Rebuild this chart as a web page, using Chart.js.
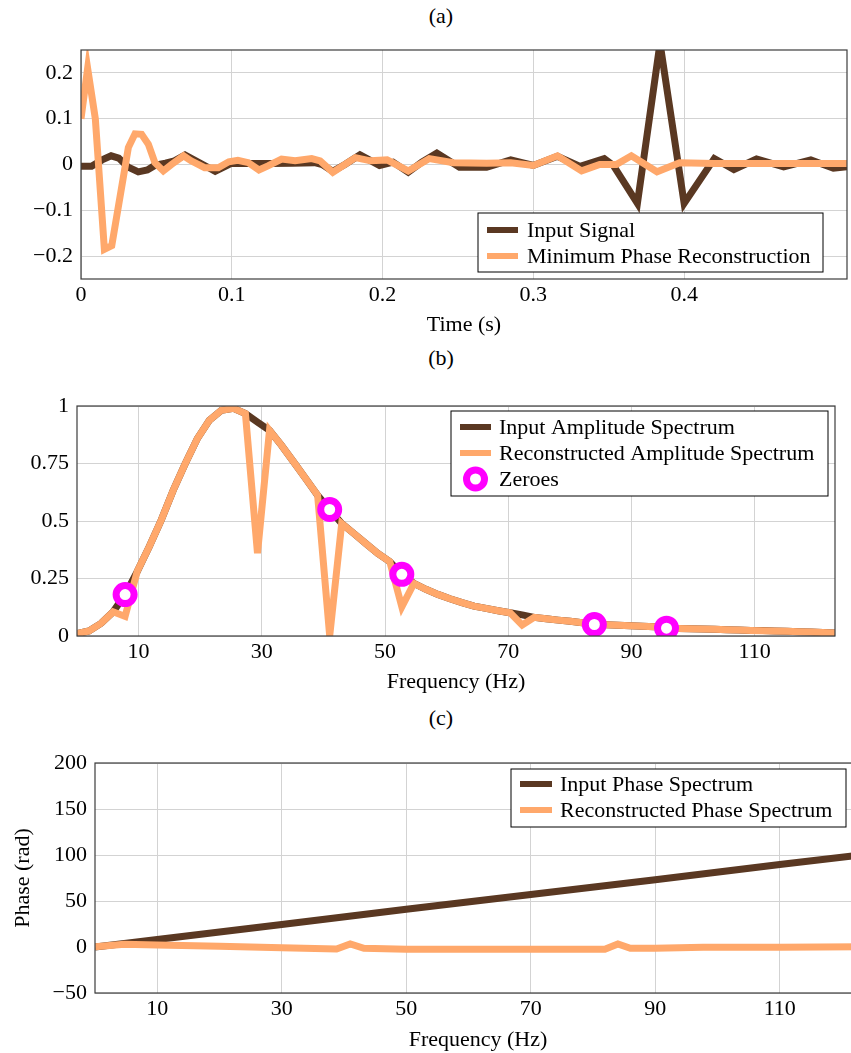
<!DOCTYPE html>
<html>
<head>
<meta charset="utf-8">
<script src="https://cdn.jsdelivr.net/npm/chart.js@4.4.0/dist/chart.umd.min.js"></script>
<style>
    html, body { margin: 0; padding: 0; width: 851px; height: 1053px; overflow: hidden; background: #fff; }
    canvas { position: absolute; left: 0; }
    .panelLabel { position: absolute; left: 391px; width: 100px; text-align: center; line-height: 26px;
                  font: 22px "Liberation Serif", "Times New Roman", serif; color: #000; }
</style>
</head>
<body>
<div class="panelLabel" style="top:3px">(a)</div>
<div class="panelLabel" style="top:345px">(b)</div>
<div class="panelLabel" style="top:705px">(c)</div>
<canvas id="chartA" width="851" height="340" style="top:0px"></canvas>
<canvas id="chartB" width="851" height="360" style="top:340px"></canvas>
<canvas id="chartC" width="880" height="353" style="top:700px"></canvas>
<script>
// (a) time domain
var timeIn = [0, 0.007, 0.014, 0.020, 0.025, 0.031, 0.038, 0.044, 0.049, 0.056, 0.062, 0.069, 0.078, 0.089,
    0.100, 0.113, 0.125, 0.140, 0.155, 0.160, 0.167, 0.175, 0.185, 0.198, 0.207, 0.217, 0.226, 0.236, 0.251,
    0.269, 0.285, 0.300, 0.316, 0.331, 0.347, 0.353, 0.369, 0.384, 0.400, 0.420, 0.433, 0.448, 0.466, 0.484,
    0.499, 0.508];
var signalIn = [-0.004, -0.004, 0.010, 0.019, 0.014, -0.005, -0.016, -0.012, -0.002, 0.003, 0.008, 0.021, 0.005, -0.015,
    0.003, 0.002, 0.002, 0.003, 0.004, 0.0, -0.015, 0.0, 0.021, -0.002, 0.005, -0.017, 0.005, 0.025, -0.006,
    -0.006, 0.010, -0.002, 0.018, -0.004, 0.013, -0.002, -0.085, 0.265, -0.085, 0.013, -0.011, 0.012, -0.005, 0.010,
    -0.008, -0.005];
var timeRec = [0, 0.0044, 0.0095, 0.0155, 0.0204, 0.0314, 0.0358, 0.0402, 0.0447, 0.049, 0.0546, 0.060, 0.068, 0.073,
    0.082, 0.091, 0.098, 0.104, 0.111, 0.118, 0.124, 0.133, 0.142, 0.153, 0.1586, 0.167, 0.182, 0.192, 0.203, 0.217,
    0.231, 0.247, 0.269, 0.285, 0.300, 0.316, 0.332, 0.344, 0.355, 0.365, 0.382, 0.397, 0.420, 0.460, 0.508];
var signalRec = [0.10, 0.21, 0.10, -0.185, -0.177, 0.037, 0.067, 0.066, 0.044, 0.004, -0.014, 0.0, 0.019, 0.008,
    -0.007, -0.007, 0.006, 0.009, 0.004, -0.012, -0.003, 0.012, 0.008, 0.013, 0.008, -0.017, 0.015, 0.008, 0.010, -0.014,
    0.013, 0.004, 0.003, 0.004, -0.002, 0.019, -0.014, 0.0, 0.0, 0.019, -0.016, 0.004, 0.002, 0.002, 0.002];
var timeTicks = [0, 0.1, 0.2, 0.3, 0.4];
var signalTicks = [-0.2, -0.1, 0, 0.1, 0.2];

// (b) amplitude spectrum
var freqBins = [0, 1.95, 3.91, 5.86, 7.81, 9.77, 11.72, 13.67, 15.63, 17.58, 19.53, 21.48, 23.44, 25.39, 27.34, 29.30,
    31.25, 33.20, 35.16, 37.11, 39.06, 41.02, 42.97, 44.92, 46.88, 48.83, 50.78, 52.73, 54.69, 56.64, 58.59, 60.55,
    62.50, 64.45, 66.41, 68.36, 70.31, 72.27, 74.22, 76.17, 78.13, 80.08, 82.03, 83.98, 85.94, 87.89, 89.84, 91.80,
    93.75, 95.70, 97.66, 99.61, 101.56, 103.52, 105.47, 107.42, 109.38, 111.33, 113.28, 115.23, 117.19, 119.14, 121.09, 123.05];
var ampIn = [0.010, 0.022, 0.055, 0.105, 0.180, 0.280, 0.388, 0.504, 0.634, 0.750, 0.858, 0.938, 0.981, 0.990, 0.967, 0.930,
    0.894, 0.829, 0.757, 0.685, 0.612, 0.550, 0.489, 0.446, 0.402, 0.359, 0.323, 0.268, 0.229, 0.203, 0.181, 0.162,
    0.145, 0.130, 0.120, 0.110, 0.101, 0.092, 0.081, 0.075, 0.069, 0.064, 0.058, 0.050, 0.049, 0.047, 0.045, 0.042,
    0.040, 0.034, 0.033, 0.032, 0.030, 0.029, 0.027, 0.026, 0.024, 0.024, 0.022, 0.021, 0.019, 0.017, 0.015, 0.013];
var ampRec = [0.010, 0.022, 0.055, 0.105, 0.085, 0.280, 0.388, 0.504, 0.634, 0.750, 0.858, 0.938, 0.981, 0.990, 0.967, 0.360,
    0.894, 0.829, 0.757, 0.685, 0.612, 0.000, 0.489, 0.446, 0.402, 0.359, 0.323, 0.127, 0.229, 0.203, 0.181, 0.162,
    0.145, 0.130, 0.120, 0.110, 0.101, 0.048, 0.081, 0.075, 0.069, 0.064, 0.058, 0.050, 0.049, 0.047, 0.045, 0.042,
    0.040, 0.034, 0.033, 0.032, 0.030, 0.029, 0.027, 0.026, 0.024, 0.023, 0.022, 0.021, 0.019, 0.017, 0.015, 0.013];
var zeroFreq = [7.81, 41.02, 52.73, 83.98, 95.70];
var zeroAmp = [0.180, 0.550, 0.268, 0.050, 0.034];
var freqTicks = [10, 30, 50, 70, 90, 110];
var ampTicks = [0, 0.25, 0.5, 0.75, 1];

// (c) phase spectrum
var phaseInFreq = [0, 10, 30, 50, 70, 90, 110, 123.05];
var phaseIn = [0, 8.2, 24.5, 41.0, 57.0, 73.2, 89.6, 100.0];
var phaseRecFreq = [0, 4.7, 10, 20, 30, 38.8, 41.0, 43.2, 50, 60, 70, 81.9, 84.0, 86.0, 90, 97.7, 110, 123.05];
var phaseRec = [0.3, 3.0, 2.2, 0.8, -0.7, -2.2, 3.3, -1.4, -2.5, -2.5, -2.5, -2.5, 3.3, -1.4, -1.4, -0.3, -0.3, 0.4];
var phaseTicks = [-50, 0, 50, 100, 150, 200];

var DARK = '#5a3822';
var ORANGE = '#ffa86b';
var MAGENTA = '#ff00ff';
var FONT = { family: '"Liberation Serif", "Times New Roman", serif', size: 22, lineHeight: 1.2 };

function pairs(xs, ys) {
    return xs.map(function (x, i) { return { x: x, y: ys[i] }; });
}

function fmt(v) {
    return String(v).replace('-', '\u2212');
}

function axis(ticks, min, max, size, isX, title, titlePad) {
    return {
        type: 'linear',
        min: min,
        max: max,
        afterBuildTicks: function (s) { s.ticks = ticks.map(function (v) { return { value: v }; }); },
        afterFit: function (s) { if (isX) { s.height = size; } else { s.width = size; } },
        grid: { color: '#d3d3d3', lineWidth: 1, drawTicks: false },
        border: { display: false },
        ticks: {
            font: FONT, color: '#000', padding: isX ? 3 : 8,
            maxRotation: 0, autoSkip: false,
            callback: function (v) { return fmt(v); }
        },
        title: title ? { display: true, text: title, font: FONT, color: '#000', padding: titlePad } : { display: false }
    };
}

function lineSet(label, xs, ys, color, order) {
    return {
        label: label, data: pairs(xs, ys), borderColor: color, backgroundColor: color,
        borderWidth: 7, pointRadius: 0, pointHoverRadius: 0, fill: false, tension: 0,
        borderJoinStyle: 'miter', clip: 0, order: order
    };
}

var framePlugin = {
    id: 'frame',
    afterDatasetsDraw: function (chart) {
        var a = chart.chartArea, ctx = chart.ctx;
        ctx.save();
        ctx.strokeStyle = '#3c3c3c';
        ctx.lineWidth = 1.2;
        ctx.strokeRect(a.left, a.top, a.right - a.left, a.bottom - a.top);
        ctx.restore();
    }
};

var legendPlugin = {
    id: 'boxLegend',
    afterDraw: function (chart, args, opts) {
        var ctx = chart.ctx;
        ctx.save();
        ctx.fillStyle = '#fff';
        ctx.fillRect(opts.left, opts.top, opts.right - opts.left, opts.bottom - opts.top);
        ctx.strokeStyle = '#000';
        ctx.lineWidth = 1;
        ctx.strokeRect(opts.left, opts.top, opts.right - opts.left, opts.bottom - opts.top);
        ctx.font = FONT.size + 'px ' + FONT.family;
        ctx.textBaseline = 'middle';
        ctx.textAlign = 'left';
        chart.data.datasets.forEach(function (ds, i) {
            var y = opts.top + opts.firstRow + i * opts.rowGap;
            if (ds.showLine === false) {
                ctx.beginPath();
                ctx.arc((opts.sampleStart + opts.sampleEnd) / 2, y, ds.pointRadius, 0, Math.PI * 2);
                ctx.fillStyle = ds.pointBackgroundColor;
                ctx.fill();
                ctx.lineWidth = ds.pointBorderWidth;
                ctx.strokeStyle = ds.pointBorderColor;
                ctx.stroke();
            } else {
                ctx.beginPath();
                ctx.moveTo(opts.sampleStart, y);
                ctx.lineTo(opts.sampleEnd, y);
                ctx.lineWidth = 6;
                ctx.strokeStyle = ds.borderColor;
                ctx.stroke();
            }
            ctx.fillStyle = '#000';
            ctx.fillText(ds.label, opts.textX, y + 1);
        });
        ctx.restore();
    }
};

function baseOptions(pad, legend, scales) {
    return {
        responsive: false,
        animation: false,
        devicePixelRatio: 1,
        events: [],
        layout: { padding: pad },
        scales: scales,
        plugins: {
            legend: { display: false },
            tooltip: { enabled: false },
            boxLegend: legend
        }
    };
}

document.addEventListener('DOMContentLoaded', function () {
    Chart.defaults.font.family = FONT.family;

    new Chart(document.getElementById('chartA'), {
        type: 'line',
        data: {
            datasets: [
                lineSet('Input Signal', timeIn, signalIn, DARK, 2),
                lineSet('Minimum Phase Reconstruction', timeRec, signalRec, ORANGE, 1)
            ]
        },
        options: baseOptions({ top: 50, right: 4, left: 0, bottom: 0 },
            { left: 478, top: 213, right: 823, bottom: 272, firstRow: 17, rowGap: 26, sampleStart: 487, sampleEnd: 518, textX: 527 },
            {
                x: axis(timeTicks, 0, 0.508, 61, true, 'Time (s)', { top: 0, bottom: 1.3 }),
                y: axis(signalTicks, -0.25, 0.25, 81, false)
            }),
        plugins: [framePlugin, legendPlugin]
    });

    var zeroes = {
        label: 'Zeroes', data: pairs(zeroFreq, zeroAmp), showLine: false,
        pointRadius: 9, pointHoverRadius: 9, pointBorderWidth: 7,
        pointBackgroundColor: '#fff', pointBorderColor: MAGENTA,
        borderColor: MAGENTA, backgroundColor: '#fff', order: 0
    };

    new Chart(document.getElementById('chartB'), {
        type: 'line',
        data: {
            datasets: [
                lineSet('Input Amplitude Spectrum', freqBins, ampIn, DARK, 2),
                lineSet('Reconstructed Amplitude Spectrum', freqBins, ampRec, ORANGE, 1),
                zeroes
            ]
        },
        options: baseOptions({ top: 66, right: 7, left: 0, bottom: 0 },
            { left: 451, top: 71, right: 828, bottom: 156, firstRow: 16, rowGap: 26, sampleStart: 460, sampleEnd: 491, textX: 499 },
            {
                x: axis(freqTicks, 0, 123.05, 64, true, 'Frequency (Hz)', { top: 0, bottom: 4.8 }),
                y: axis(ampTicks, 0, 1, 77, false)
            }),
        plugins: [framePlugin, legendPlugin]
    });

    new Chart(document.getElementById('chartC'), {
        type: 'line',
        data: {
            datasets: [
                lineSet('Input Phase Spectrum', phaseInFreq, phaseIn, DARK, 2),
                lineSet('Reconstructed Phase Spectrum', phaseRecFreq, phaseRec, ORANGE, 1)
            ]
        },
        options: baseOptions({ top: 63, right: 19, left: 0, bottom: 0 },
            { left: 511, top: 69, right: 846, bottom: 127, firstRow: 15, rowGap: 26, sampleStart: 520, sampleEnd: 552, textX: 560 },
            {
                x: axis(freqTicks, 0, 123.05, 60, true, 'Frequency (Hz)', { top: 0, bottom: 0 }),
                y: axis(phaseTicks, -50, 200, 95, false, 'Phase (rad)', { top: 10, bottom: 0 })
            }),
        plugins: [framePlugin, legendPlugin]
    });
});
</script>
</body>
</html>
